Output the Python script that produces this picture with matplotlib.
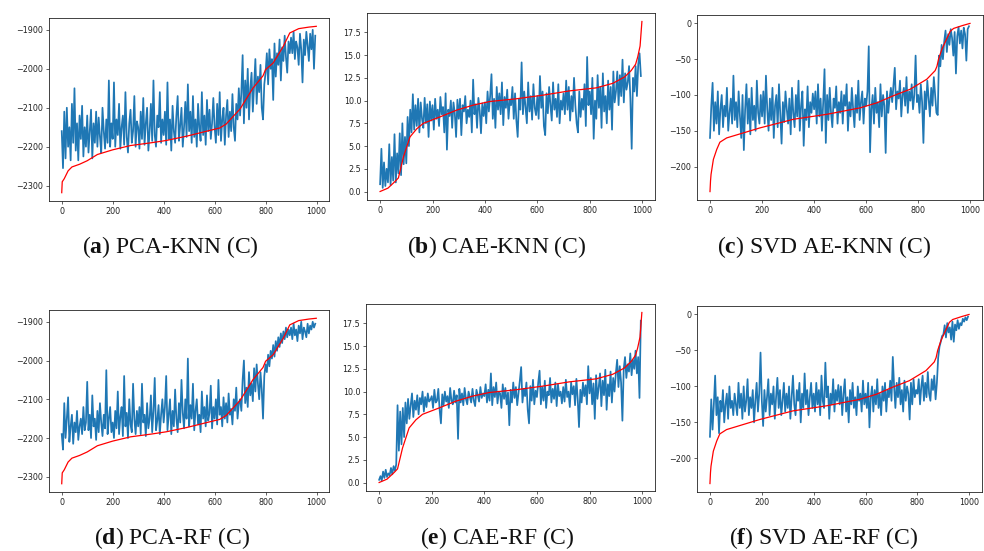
import numpy as np
import matplotlib
matplotlib.use("Agg")
import matplotlib.pyplot as plt

plt.rcParams["mathtext.fontset"] = "custom"
plt.rcParams["mathtext.rm"] = "Liberation Serif"
plt.rcParams["mathtext.bf"] = "Liberation Serif:bold"

# ---------------- data ----------------
x_pred = np.arange(0, 1000, 5)

# sorted true values (red curves), control points
red_pca_x = [0, 2, 10, 25, 40, 70, 100, 140, 200, 270, 350, 410, 490, 570, 620, 645, 700, 750, 790, 800, 830, 870, 895, 930, 970, 999]
red_pca_y = [-2318, -2290, -2282, -2262, -2252, -2245, -2236, -2220, -2208, -2197, -2190, -2184, -2173, -2160, -2152, -2142, -2103, -2050, -2018, -2002, -1985, -1942, -1908, -1897, -1893, -1891]

red_cae_x = [0, 30, 57, 70, 89, 114, 140, 165, 228, 292, 355, 419, 520, 622, 723, 825, 888, 933, 958, 975, 983, 992, 999]
red_cae_y = [0.0, 0.37, 1.1, 1.5, 3.8, 6.0, 6.9, 7.5, 8.2, 8.95, 9.5, 9.9, 10.2, 10.6, 11.07, 11.4, 11.9, 12.6, 13.3, 14.0, 14.8, 16.0, 18.7]

red_svd_x = [0, 2, 4, 13, 26, 38, 64, 128, 192, 320, 449, 577, 641, 705, 769, 833, 865, 872, 878, 891, 923, 936, 970, 999]
red_svd_y = [-235, -220, -211, -190, -176, -166, -160, -153, -146, -134, -127, -118, -111, -101, -92, -78, -66, -60, -50, -36, -11, -7, -3, 0]

# predictions (blue), one value every 5 samples
pca_knn = [
    -2160, -2255, -2110, -2230, -2100, -2200, -2150, -2235, -2090, -2190, -2050, -2210, -2140, -2235, -2120, -2180, -2095, -2225, -2150, -2200,
    -2120, -2215, -2160, -2105, -2230, -2140, -2190, -2110, -2200, -2125, -2175, -2215, -2100, -2160, -2205, -2130, -2190, -2030, -2200, -2140,
    -2180, -2035, -2200, -2130, -2170, -2090, -2205, -2150, -2120, -2195, -2060, -2175, -2215, -2140, -2105, -2190, -2160, -2070, -2200, -2135,
    -2150, -2205, -2110, -2180, -2075, -2195, -2140, -2100, -2210, -2160, -2090, -2185, -2030, -2170, -2200, -2120, -2150, -2060, -2190, -2130,
    -2170, -2110, -2195, -2035, -2180, -2130, -2210, -2095, -2160, -2190, -2120, -2070, -2185, -2145, -2100, -2200, -2150, -2085, -2175, -2040,
    -2160, -2110, -2190, -2070, -2175, -2130, -2200, -2090, -2150, -2185, -2060, -2170, -2120, -2195, -2080, -2160, -2105, -2180, -2140, -2075,
    -2150, -2190, -2090, -2170, -2060, -2185, -2130, -2100, -2195, -2120, -2080, -2175, -2110, -2160, -2065, -2150, -2185, -2090, -2130, -2050,
    -2120, -2060, -1965, -2140, -2030, -2100, -2000, -2130, -2050, -2010, -2110, -2040, -1975, -2090, -2020, -2060, -1990, -2100, -2130, -2040,
    -2010, -1960, -2040, -1950, -2000, -1975, -2080, -1935, -2020, -1960, -1990, -1925, -2030, -1945, -1980, -1915, -1970, -2010, -1930, -1960,
    -1920, -1960, -1905, -1975, -1930, -1945, -1990, -1910, -1950, -2035, -1925, -1965, -1905, -1940, -1980, -1910, -1950, -1900, -2000, -1915,
]

cae_knn = [
    0.8, 4.7, 0.4, 3.2, 0.6, 2.5, 1.0, 5.2, 0.7, 3.8, 1.2, 6.3, 1.0, 4.2, 2.0, 6.4, 1.8, 7.5, 3.0, 6.0,
    3.1, 8.2, 5.0, 9.0, 6.5, 10.7, 6.8, 9.5, 7.2, 10.2, 6.5, 9.8, 8.0, 7.0, 10.3, 7.5, 9.6, 6.0, 9.9, 7.8,
    9.5, 6.8, 10.2, 8.0, 9.0, 7.2, 10.4, 8.5, 9.3, 6.5, 10.8, 4.6, 9.0, 8.3, 10.0, 7.0, 9.8, 8.6, 6.0, 10.1,
    8.0, 10.2, 6.2, 9.5, 8.8, 10.5, 7.5, 9.0, 8.2, 10.0, 6.5, 12.3, 8.5, 9.6, 7.0, 10.3, 8.9, 6.4, 9.7, 8.3,
    9.8, 7.5, 11.0, 8.8, 10.5, 12.9, 8.0, 10.2, 7.0, 11.5, 9.0, 10.8, 8.5, 12.0, 7.3, 10.4, 9.2, 11.2, 8.0, 10.0,
    9.5, 11.5, 8.0, 10.8, 7.8, 6.0, 10.2, 9.0, 14.2, 8.5, 11.0, 9.3, 7.5, 12.0, 8.8, 10.5, 7.9, 11.8, 9.2, 8.4,
    10.5, 8.0, 12.7, 9.2, 11.0, 7.2, 6.2, 10.8, 8.6, 11.5, 9.5, 7.8, 12.0, 9.0, 10.2, 8.2, 11.8, 7.5, 10.0, 9.0,
    10.8, 8.5, 12.2, 9.0, 11.5, 7.8, 10.5, 8.8, 12.5, 9.5, 7.5, 6.5, 11.0, 8.2, 10.2, 9.0, 11.8, 7.2, 14.8, 9.5,
    11.0, 8.5, 12.5, 5.8, 10.0, 8.0, 12.8, 9.2, 11.5, 7.0, 13.0, 8.8, 10.5, 7.5, 12.2, 9.0, 11.5, 6.8, 13.2, 9.8,
    11.0, 13.2, 9.5, 12.8, 10.5, 14.5, 9.8, 13.0, 11.2, 12.0, 13.8, 10.2, 4.7, 12.5, 11.0, 13.8, 10.5, 14.0, 15.2, 12.7,
]

svd_knn = [
    -160, -115, -83, -150, -110, -140, -95, -155, -120, -100, -145, -115, -130, -90, -150, -125, -105, -140, -73, -135,
    -110, -145, -95, -130, -160, -100, -177, -120, -85, -140, -105, -155, -90, -135, -115, -150, -80, -125, -140, -100,
    -130, -95, -140, -73, -120, -150, -105, -135, -90, -160, -115, -100, -145, -85, -125, -168, -110, -138, -95, -120,
    -140, -105, -155, -90, -125, -145, -100, -130, -80, -150, -115, -95, -171, -120, -135, -88, -145, -110, -125, -98,
    -120, -95, -140, -85, -130, -105, -150, -110, -64, -167, -100, -135, -90, -125, -145, -105, -118, -88, -140, -110,
    -125, -95, -140, -100, -115, -85, -150, -110, -130, -90, -120, -145, -100, -125, -80, -135, -110, -95, -140, -105,
    -115, -95, -32, -180, -120, -100, -140, -90, -125, -110, -145, -85, -130, -100, -115, -181, -95, -125, -105, -90,
    -110, -85, -62, -120, -95, -105, -80, -130, -100, -90, -115, -75, -125, -95, -108, -85, -120, -100, -45, -110,
    -100, -125, -85, -110, -167, -95, -120, -80, -105, -130, -90, -115, -75, -100, -125, -128, -45, -60, -30, -50,
    -25, -10, -40, -15, -30, -8, -20, -45, -12, -70, -18, -5, -28, -10, -35, -6, -15, -52, -8, -4,
]

pca_rf = [
    -2190, -2230, -2110, -2200, -2150, -2095, -2210, -2170, -2140, -2215, -2160, -2185, -2130, -2205, -2170, -2150, -2190, -2120, -2180, -2160,
    -2055, -2180, -2140, -2200, -2090, -2170, -2150, -2205, -2130, -2185, -2110, -2160, -2195, -2140, -2175, -2025, -2190, -2150, -2120, -2185,
    -2160, -2200, -2130, -2175, -2080, -2190, -2145, -2120, -2195, -2040, -2170, -2135, -2200, -2100, -2165, -2185, -2060, -2150, -2190, -2130,
    -2170, -2120, -2190, -2060, -2160, -2140, -2195, -2110, -2175, -2150, -2090, -2185, -2130, -2045, -2180, -2155, -2115, -2190, -2140, -2100,
    -2160, -2120, -2040, -2180, -2140, -2100, -2190, -2130, -2170, -2075, -2150, -2185, -2110, -2160, -2050, -2135, -2175, -2100, -2150, -1995,
    -2170, -2115, -2150, -2060, -2180, -2130, -2100, -2165, -2140, -2185, -2080, -2150, -2120, -2170, -2090, -2155, -2135, -2065, -2175, -2120,
    -2150, -2100, -2165, -2050, -2140, -2120, -2170, -2095, -2150, -2110, -2160, -2085, -2140, -2125, -2165, -2100, -2130, -2070, -2150, -2110,
    -2100, -2130, -2050, -2000, -2110, -2070, -2120, -2030, -2090, -2060, -2105, -2020, -2080, -2010, -2060, -2100, -2030, -2075, -2150, -2040,
    -2010, -2030, -1985, -2015, -1975, -1995, -1960, -1990, -1950, -1975, -1940, -1965, -1930, -1955, -1925, -1945, -1915, -1940, -1920, -1935,
    -1915, -1945, -1905, -1935, -1920, -1950, -1910, -1930, -1900, -1945, -1915, -1925, -1940, -1905, -1930, -1910, -1920, -1900, -1915, -1905,
]

cae_rf = [
    0.3, 0.7, 0.2, 1.2, 0.5, 1.4, 0.6, 1.0, 0.8, 1.6, 0.9, 1.8, 1.3, 2.0, 8.5, 3.5, 7.8, 4.2, 8.2, 5.0,
    8.8, 6.5, 9.2, 7.0, 8.5, 9.8, 7.2, 9.0, 8.0, 9.6, 7.5, 9.3, 8.6, 10.0, 7.8, 9.4, 8.3, 9.8, 8.9, 9.1,
    9.5, 8.2, 10.2, 8.8, 9.0, 10.3, 8.0, 6.5, 9.7, 8.5, 10.0, 8.9, 9.5, 8.2, 10.4, 9.0, 8.6, 10.1, 8.8, 9.6,
    4.8, 10.3, 8.8, 9.8, 8.5, 10.4, 9.2, 8.6, 10.0, 9.4, 8.8, 10.3, 9.0, 8.4, 10.2, 9.6, 8.9, 10.5, 9.3, 9.8,
    9.5, 10.8, 8.8, 10.2, 9.0, 12.0, 8.5, 10.5, 9.4, 11.0, 8.7, 10.0, 9.8, 8.2, 10.8, 9.2, 10.4, 8.6, 9.9, 6.3,
    10.2, 8.8, 11.0, 9.3, 10.5, 8.5, 9.8, 11.2, 12.7, 8.8, 10.3, 9.5, 11.0, 8.0, 6.5, 10.6, 9.0, 11.3, 8.6, 10.1,
    9.4, 11.0, 12.3, 8.6, 10.5, 9.0, 11.2, 8.2, 10.0, 9.6, 11.5, 8.8, 10.3, 9.2, 11.0, 8.4, 10.8, 9.5, 10.0, 8.7,
    10.5, 8.9, 11.3, 9.4, 10.0, 8.3, 11.0, 9.7, 10.6, 8.5, 11.4, 9.2, 6.1, 10.2, 8.8, 11.0, 9.5, 10.7, 8.6, 12.8,
    9.8, 11.5, 8.6, 10.9, 7.0, 11.8, 9.2, 10.5, 12.0, 8.4, 11.2, 9.6, 12.4, 8.0, 10.8, 9.5, 12.2, 8.8, 11.5, 10.0,
    12.0, 13.5, 10.5, 12.8, 11.0, 6.8, 12.5, 13.8, 11.5, 13.0, 12.2, 14.2, 11.8, 13.5, 12.5, 14.5, 12.0, 13.8, 9.3, 17.8,
]

svd_rf = [
    -170, -118, -160, -125, -85, -140, -115, -165, -120, -135, -105, -150, -125, -110, -145, -100, -130, -120, -140, -110,
    -125, -140, -95, -130, -110, -145, -100, -135, -120, -90, -140, -115, -130, -105, -150, -120, -95, -135, -110, -53,
    -120, -155, -105, -135, -115, -90, -140, -110, -125, -100, -145, -115, -88, -130, -105, -140, -120, -95, -135, -110,
    -130, -100, -145, -115, -85, -125, -140, -105, -120, -95, -150, -110, -130, -82, -125, -105, -140, -115, -95, -130,
    -110, -135, -95, -125, -105, -140, -85, -120, -130, -67, -115, -100, -145, -110, -125, -90, -135, -105, -120, -98,
    -125, -100, -140, -110, -90, -135, -115, -150, -105, -125, -95, -130, -115, -140, -100, -120, -110, -135, -92, -125,
    -110, -130, -95, -157, -115, -100, -135, -105, -125, -90, -130, -110, -140, -100, -120, -95, -135, -105, -115, -92,
    -120, -59, -100, -130, -95, -115, -88, -125, -105, -135, -92, -120, -100, -110, -146, -95, -125, -90, -115, -105,
    -110, -90, -125, -100, -85, -120, -95, -115, -80, -110, -120, -90, -105, -85, -118, -95, -60, -45, -38, -30,
    -28, -15, -32, -12, -25, -18, -35, -10, -38, -14, -22, -8, -20, -12, -15, -6, -10, -4, -8, -3,
]

captions_letter = ["a", "b", "c", "d", "e", "f"]
captions_text = ["PCA-KNN (C)", "CAE-KNN (C)", "SVD AE-KNN (C)",
                 "PCA-RF (C)", "CAE-RF (C)", "SVD AE-RF (C)"]

# ---------------- figure ----------------
W, H = 984, 551
fig = plt.figure(figsize=(W / 100, H / 100), dpi=100)

def rect(l, r, t, b):
    return [l / W, (H - b) / H, (r - l) / W, (b - t) / H]

panels = [
    (rect(49, 329, 18, 201), pca_knn, red_pca_x, red_pca_y),
    (rect(367, 655, 13, 200), cae_knn, red_cae_x, red_cae_y),
    (rect(697, 983, 15, 200), svd_knn, red_svd_x, red_svd_y),
    (rect(49, 329, 310, 492), pca_rf, red_pca_x, red_pca_y),
    (rect(366, 655, 304, 491), cae_rf, red_cae_x, red_cae_y),
    (rect(697, 982, 306, 492), svd_rf, red_svd_x, red_svd_y),
]

for pos, pred, rx, ry in panels:
    ax = fig.add_axes(pos)
    ax.plot(x_pred, pred, color="#1f77b4", lw=1.25)
    ax.plot(rx, ry, color="red", lw=0.9)
    ax.set_xticks([0, 200, 400, 600, 800, 1000])
    ax.tick_params(labelsize=5.8, length=2.2, width=0.5, pad=2, colors="#222222")
    for s in ax.spines.values():
        s.set_linewidth(0.6)
        s.set_color("#222222")

cap_centers = [170, 497, 824, 172, 497, 824]
cap_base = [253, 253, 253, 544, 544, 544]
for i in range(6):
    fig.text(cap_centers[i] / W, (H - cap_base[i]) / H,
             "(" + r"$\mathbf{" + captions_letter[i] + "}$" + ") " + captions_text[i],
             ha="center", va="baseline", fontsize=17, family="Liberation Serif",
             color="#111111")

fig.savefig("out.png", dpi=100)
